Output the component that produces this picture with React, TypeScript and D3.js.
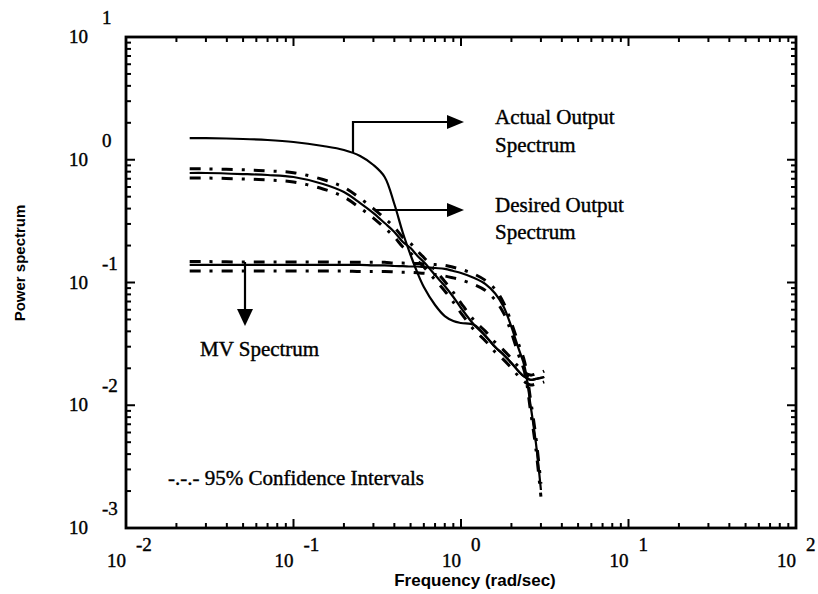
import React from "react";
import * as d3 from "d3";

// Frequencies (rad/sec) at which curves are sampled
const freq = [0.024, 0.03, 0.05, 0.07, 0.1, 0.15, 0.2, 0.25, 0.3, 0.35, 0.4, 0.45, 0.5, 0.55, 0.6, 0.7, 0.8, 0.9, 1.0, 1.2, 1.4, 1.6, 1.8, 2.0, 2.2, 2.4, 2.6, 2.8, 3.0, 3.14];

const actualOutput = [1.5, 1.5, 1.476, 1.448, 1.395, 1.294, 1.2, 1.073, 0.906, 0.724, 0.436, 0.253, 0.1675, 0.1195, 0.0919, 0.0656, 0.0533, 0.0486, 0.0468, 0.045, 0.0367, 0.0298, 0.0257, 0.0221, 0.019, 0.017, 0.0161, 0.0164, 0.0167, 0.017];

const desiredOutput = [0.78, 0.78, 0.765, 0.751, 0.724, 0.635, 0.546, 0.444, 0.368, 0.305, 0.258, 0.2137, 0.191, 0.1644, 0.1469, 0.1151, 0.0937, 0.0762, 0.062, 0.045, 0.0367, 0.0298, 0.0257, 0.0221, 0.019, 0.017, 0.0161, 0.0164, 0.0167, 0.017];
const desiredUpper = [0.845, 0.842, 0.828, 0.812, 0.785, 0.69, 0.595, 0.485, 0.4, 0.333, 0.282, 0.233, 0.208, 0.18, 0.16, 0.126, 0.102, 0.083, 0.068, 0.049, 0.04, 0.0325, 0.028, 0.024, 0.0207, 0.0185, 0.0176, 0.018, 0.0185, 0.019];
const desiredLower = [0.71, 0.71, 0.697, 0.684, 0.659, 0.578, 0.497, 0.404, 0.335, 0.278, 0.235, 0.1945, 0.174, 0.15, 0.134, 0.105, 0.0853, 0.0693, 0.0564, 0.041, 0.0334, 0.0271, 0.0234, 0.0201, 0.0173, 0.0155, 0.0146, 0.0149, 0.0152, 0.0155];

const mvSpectrum = [0.139, 0.139, 0.139, 0.139, 0.139, 0.139, 0.139, 0.139, 0.138, 0.138, 0.1363, 0.136, 0.135, 0.135, 0.1338, 0.1313, 0.129, 0.1241, 0.1195, 0.1088, 0.0972, 0.0813, 0.0632, 0.0434, 0.0293, 0.0205, 0.01005, 0.00493, 0.00204];
const mvUpper = [0.148, 0.148, 0.147, 0.147, 0.147, 0.147, 0.146, 0.146, 0.146, 0.146, 0.144, 0.144, 0.143, 0.143, 0.142, 0.14, 0.138, 0.133, 0.128, 0.117, 0.104, 0.088, 0.068, 0.047, 0.032, 0.0225, 0.0112, 0.0055, 0.0023];
const mvLower = [0.124, 0.124, 0.124, 0.124, 0.124, 0.124, 0.124, 0.123, 0.123, 0.123, 0.122, 0.121, 0.121, 0.12, 0.119, 0.116, 0.113, 0.109, 0.105, 0.096, 0.086, 0.072, 0.056, 0.039, 0.026, 0.0185, 0.009, 0.0044, 0.0018];

const xDecades = [-2, -1, 0, 1, 2];
const yDecades = [-3, -2, -1, 0, 1];

const W = 818;
const H = 594;
const serif = "'Liberation Serif', 'Times New Roman', serif";
const sans = "'Liberation Sans', Arial, sans-serif";

export default function App() {
  const x = d3.scaleLog().domain([0.01, 100]).range([126, 796]);
  const y = d3.scaleLog().domain([0.001, 10]).range([528, 37]);

  const line = d3
    .line<[number, number]>()
    .x((d) => x(d[0]))
    .y((d) => y(d[1]))
    .curve(d3.curveCatmullRom.alpha(0.5));

  const pts = (vals: number[]) => vals.map((v, i) => [freq[i], v] as [number, number]);

  const xt = x.ticks();
  const yt = y.ticks();
  const isMajor = (v: number) => Math.abs(Math.log10(v) - Math.round(Math.log10(v))) < 1e-6;

  const [x0, x1] = x.range();
  const [y0, y1] = y.range(); // y0 bottom, y1 top

  const dash = "11 9 3 9";

  const arrowHead = (tx: number, ty: number, dir: "right" | "down") => {
    if (dir === "right") {
      return `M${tx},${ty} L${tx - 17},${ty - 7} L${tx - 17},${ty + 7} Z`;
    }
    return `M${tx},${ty} L${tx - 8},${ty - 17} L${tx + 8},${ty - 17} Z`;
  };

  return (
    <svg
      width={W}
      height={H}
      style={{ position: "absolute", left: 0, top: 0, background: "#fff" }}
    >
      <rect x={0} y={0} width={W} height={H} fill="#fff" />
      {/* frame */}
      <rect
        x={x0}
        y={y1}
        width={x1 - x0}
        height={y0 - y1}
        fill="none"
        stroke="#000"
        strokeWidth={2.8}
      />
      {/* x ticks bottom & top */}
      {xt.map((t, i) => {
        const len = isMajor(t) ? 9 : 5;
        return (
          <g key={"xt" + i}>
            <line x1={x(t)} x2={x(t)} y1={y0} y2={y0 - len} stroke="#000" strokeWidth={2} />
            <line x1={x(t)} x2={x(t)} y1={y1} y2={y1 + len} stroke="#000" strokeWidth={2} />
          </g>
        );
      })}
      {/* y ticks left & right */}
      {yt.map((t, i) => {
        const len = isMajor(t) ? 9 : 5;
        return (
          <g key={"yt" + i}>
            <line x1={x0} x2={x0 + len} y1={y(t)} y2={y(t)} stroke="#000" strokeWidth={2} />
            <line x1={x1} x2={x1 - len} y1={y(t)} y2={y(t)} stroke="#000" strokeWidth={2} />
          </g>
        );
      })}
      {/* x tick labels */}
      {xDecades.map((e) => {
        const px = x(Math.pow(10, e));
        return (
          <g key={"xl" + e} fontFamily={serif} fontSize={19} fill="#000" stroke="#000" strokeWidth={0.4}>
            <text x={px} y={567} textAnchor="end">10</text>
            <text x={px + 10} y={551}>{String(e)}</text>
          </g>
        );
      })}
      {/* y tick labels */}
      {yDecades.map((e) => {
        const py = y(Math.pow(10, e));
        return (
          <g key={"yl" + e} fontFamily={serif} fontSize={19} fill="#000" stroke="#000" strokeWidth={0.4}>
            <text x={88} y={py + 6} textAnchor="end">10</text>
            <text x={102} y={py - 13}>{String(e)}</text>
          </g>
        );
      })}
      {/* axis titles */}
      <text
        x={475}
        y={586}
        textAnchor="middle"
        fontFamily={sans}
        fontWeight="bold"
        fontSize={17}
      >
        Frequency (rad/sec)
      </text>
      <text
        transform={`translate(25,263) rotate(-90)`}
        textAnchor="middle"
        fontFamily={sans}
        fontWeight="bold"
        fontSize={15}
      >
        Power spectrum
      </text>

      {/* curves */}
      <g fill="none" stroke="#000">
        <path d={line(pts(actualOutput)) || ""} strokeWidth={2.2} />
        <path d={line(pts(desiredOutput)) || ""} strokeWidth={2.2} />
        <path d={line(pts(desiredUpper)) || ""} strokeWidth={3} strokeDasharray={dash} />
        <path d={line(pts(desiredLower)) || ""} strokeWidth={3} strokeDasharray={dash} />
        <path d={line(pts(mvSpectrum)) || ""} strokeWidth={2.2} />
        <path d={line(pts(mvUpper)) || ""} strokeWidth={3} strokeDasharray={dash} />
        <path d={line(pts(mvLower)) || ""} strokeWidth={3} strokeDasharray={dash} />
      </g>

      {/* annotations */}
      <g stroke="#000" strokeWidth={2.2} fill="none">
        <polyline points="353,153 353,122 450,122" />
        <line x1={375} y1={210} x2={450} y2={210} />
        <line x1={245} y1={262} x2={245} y2={312} />
      </g>
      <g fill="#000">
        <path d={arrowHead(464, 122, "right")} />
        <path d={arrowHead(464, 210, "right")} />
        <path d={arrowHead(245, 326, "down")} />
      </g>
      <g fontFamily={serif} fontSize={21} fill="#000" stroke="#000" strokeWidth={0.4}>
        <text x={495} y={124}>Actual Output</text>
        <text x={495} y={152}>Spectrum</text>
        <text x={495} y={212}>Desired Output</text>
        <text x={495} y={239}>Spectrum</text>
        <text x={200} y={356}>MV Spectrum</text>
        <text x={168} y={485}>-.-.- 95% Confidence Intervals</text>
      </g>
    </svg>
  );
}
